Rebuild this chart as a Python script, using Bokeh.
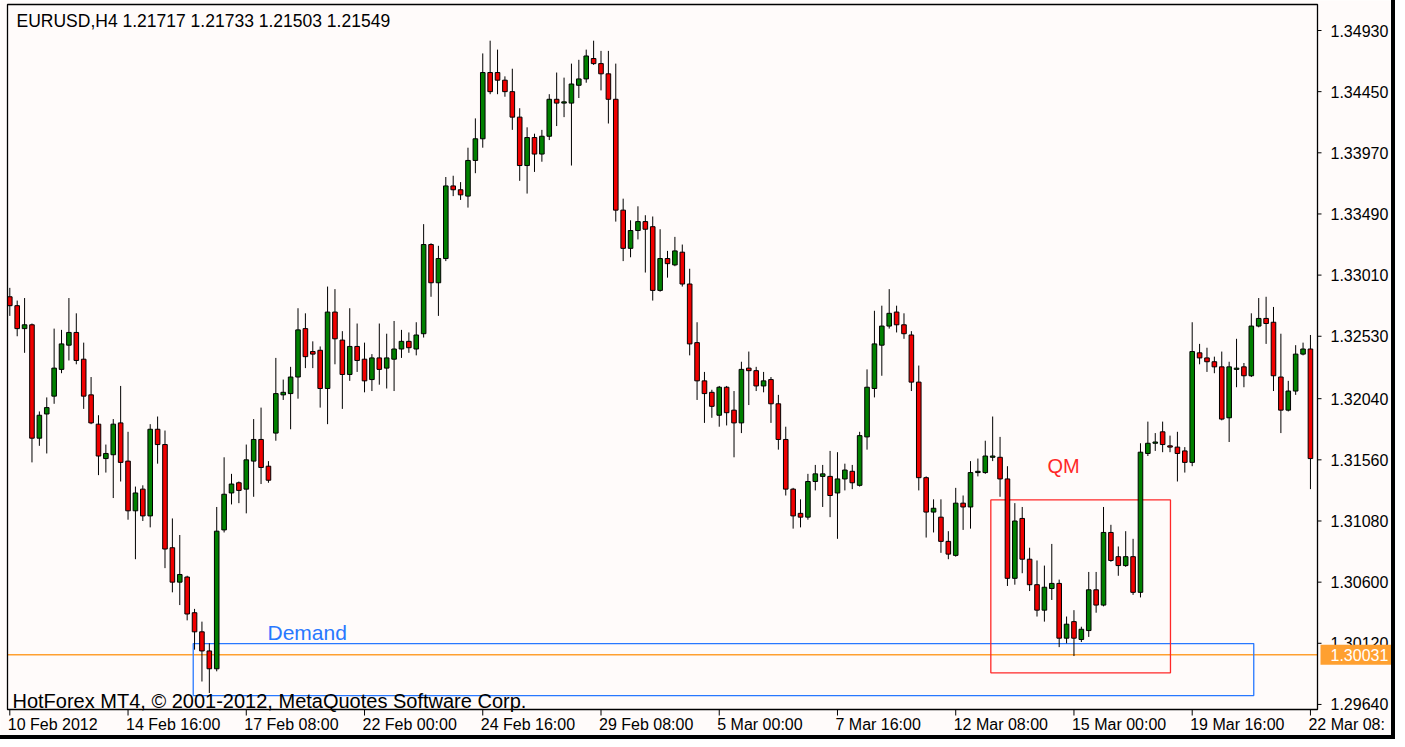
from bokeh.plotting import figure
from bokeh.models import ColumnDataSource, Range1d
from bokeh.core.properties import value
from bokeh.embed import file_html
from bokeh.resources import INLINE

# ---------------- data (EURUSD H4, bars indexed from 10 Feb 2012 00:00) ----------------
opens = [1.3284, 1.3277, 1.3259, 1.3262, 1.3173, 1.3192, 1.3206, 1.3227, 1.3246, 1.3256,
         1.3235, 1.3207, 1.3184, 1.3157, 1.3160, 1.3185, 1.3155, 1.3116, 1.3133, 1.3112,
         1.3180, 1.3168, 1.3087, 1.3060, 1.3064, 1.3036, 1.3021, 1.3006, 1.2992, 1.3101,
         1.3130, 1.3138, 1.3133, 1.3155, 1.3172, 1.3151, 1.3177, 1.3207, 1.3208, 1.3221,
         1.3259, 1.3241, 1.3242, 1.3212, 1.3272, 1.3250, 1.3223, 1.3245, 1.3235, 1.3219,
         1.3236, 1.3228, 1.3235, 1.3243, 1.3249, 1.3243, 1.3255, 1.3325, 1.3295, 1.3314,
         1.3371, 1.3368, 1.3363, 1.3391, 1.3408, 1.3460, 1.3460, 1.3454, 1.3445, 1.3425,
         1.3387, 1.3409, 1.3396, 1.3410, 1.3439, 1.3436, 1.3436, 1.3450, 1.3455, 1.3471,
         1.3467, 1.3459, 1.3439, 1.3352, 1.3322, 1.3336, 1.3343, 1.3339, 1.3289, 1.3314,
         1.3309, 1.3319, 1.3294, 1.3248, 1.3218, 1.3209, 1.3191, 1.3213, 1.3195, 1.3185,
         1.3228, 1.3226, 1.3214, 1.3219, 1.3200, 1.3172, 1.3133, 1.3114, 1.3111, 1.3139,
         1.3143, 1.3143, 1.3130, 1.3141, 1.3147, 1.3136, 1.3174, 1.3212, 1.3246, 1.3261,
         1.3272, 1.3262, 1.3254, 1.3217, 1.3142, 1.3115, 1.3111, 1.3092, 1.3081, 1.3122,
         1.3119, 1.3146, 1.3146, 1.3158, 1.3158, 1.3141, 1.3063, 1.3110, 1.3078, 1.3058,
         1.3038, 1.3055, 1.3059, 1.3016, 1.3029, 1.3015, 1.3022, 1.3054, 1.3042, 1.3099,
         1.3080, 1.3073, 1.3080, 1.3052, 1.3161, 1.3169, 1.3178, 1.3167, 1.3166, 1.3163,
         1.3154, 1.3240, 1.3236, 1.3233, 1.3229, 1.3189, 1.3227, 1.3229, 1.3222, 1.3261,
         1.3267, 1.3264, 1.3221, 1.3195, 1.3210, 1.3239, 1.3243]
highs = [1.3291, 1.3281, 1.3283, 1.3263, 1.3194, 1.3205, 1.3259, 1.3258, 1.3283, 1.3271,
         1.3248, 1.3221, 1.3191, 1.3168, 1.3188, 1.3214, 1.3178, 1.3135, 1.3136, 1.3184,
         1.3190, 1.3179, 1.3110, 1.3097, 1.3065, 1.3039, 1.3029, 1.3012, 1.3119, 1.3158,
         1.3145, 1.3139, 1.3168, 1.3188, 1.3197, 1.3155, 1.3236, 1.3219, 1.3229, 1.3275,
         1.3271, 1.3249, 1.3245, 1.3292, 1.3290, 1.3257, 1.3275, 1.3263, 1.3248, 1.3239,
         1.3263, 1.3255, 1.3265, 1.3258, 1.3256, 1.3264, 1.3341, 1.3326, 1.3324, 1.3378,
         1.3379, 1.3374, 1.3401, 1.3424, 1.3475, 1.3485, 1.3478, 1.3457, 1.3463, 1.3432,
         1.3417, 1.3412, 1.3415, 1.3443, 1.3460, 1.3456, 1.3467, 1.3470, 1.3478, 1.3485,
         1.3477, 1.3477, 1.3467, 1.3361, 1.3344, 1.3355, 1.3348, 1.3347, 1.3337, 1.3320,
         1.3331, 1.3325, 1.3306, 1.3264, 1.3225, 1.3211, 1.3214, 1.3214, 1.3210, 1.3233,
         1.3241, 1.3229, 1.3225, 1.3221, 1.3207, 1.3182, 1.3134, 1.3125, 1.3145, 1.3152,
         1.3152, 1.3163, 1.3162, 1.3153, 1.3152, 1.3178, 1.3227, 1.3273, 1.3277, 1.3290,
         1.3277, 1.3271, 1.3257, 1.3230, 1.3143, 1.3125, 1.3125, 1.3100, 1.3134, 1.3128,
         1.3155, 1.3157, 1.3171, 1.3190, 1.3174, 1.3151, 1.3122, 1.3119, 1.3087, 1.3077,
         1.3073, 1.3090, 1.3062, 1.3033, 1.3038, 1.3025, 1.3068, 1.3068, 1.3119, 1.3105,
         1.3088, 1.3100, 1.3094, 1.3169, 1.3186, 1.3177, 1.3186, 1.3175, 1.3178, 1.3166,
         1.3264, 1.3247, 1.3244, 1.3237, 1.3241, 1.3233, 1.3251, 1.3232, 1.3271, 1.3283,
         1.3284, 1.3276, 1.3255, 1.3218, 1.3246, 1.3248, 1.3254]
lows = [1.3269, 1.3253, 1.3240, 1.3154, 1.3167, 1.3161, 1.3200, 1.3224, 1.3234, 1.3231,
        1.3196, 1.3184, 1.3144, 1.3146, 1.3126, 1.3139, 1.3109, 1.3078, 1.3108, 1.3103,
        1.3153, 1.3071, 1.3052, 1.3042, 1.3030, 1.3007, 1.2982, 1.2973, 1.2990, 1.3099,
        1.3121, 1.3122, 1.3114, 1.3127, 1.3137, 1.3138, 1.3171, 1.3203, 1.3180, 1.3204,
        1.3228, 1.3228, 1.3197, 1.3184, 1.3231, 1.3196, 1.3218, 1.3225, 1.3209, 1.3210,
        1.3215, 1.3212, 1.3210, 1.3236, 1.3240, 1.3238, 1.3252, 1.3284, 1.3269, 1.3312,
        1.3363, 1.3360, 1.3354, 1.3381, 1.3401, 1.3443, 1.3443, 1.3441, 1.3415, 1.3375,
        1.3365, 1.3382, 1.3390, 1.3407, 1.3418, 1.3425, 1.3387, 1.3440, 1.3452, 1.3466,
        1.3446, 1.3420, 1.3343, 1.3312, 1.3315, 1.3329, 1.3303, 1.3281, 1.3288, 1.3299,
        1.3308, 1.3292, 1.3238, 1.3203, 1.3185, 1.3189, 1.3182, 1.3183, 1.3158, 1.3177,
        1.3199, 1.3210, 1.3209, 1.3185, 1.3164, 1.3128, 1.3102, 1.3103, 1.3109, 1.3132,
        1.3119, 1.3111, 1.3094, 1.3132, 1.3133, 1.3135, 1.3164, 1.3205, 1.3222, 1.3259,
        1.3256, 1.3251, 1.3210, 1.3132, 1.3095, 1.3099, 1.3083, 1.3078, 1.3080, 1.3101,
        1.3102, 1.3143, 1.3145, 1.3155, 1.3127, 1.3057, 1.3058, 1.3067, 1.3053, 1.3033,
        1.3029, 1.3046, 1.3009, 1.3012, 1.3002, 1.3013, 1.3017, 1.3036, 1.3041, 1.3076,
        1.3065, 1.3072, 1.3050, 1.3048, 1.3159, 1.3163, 1.3162, 1.3162, 1.3139, 1.3146,
        1.3151, 1.3231, 1.3225, 1.3224, 1.3187, 1.3170, 1.3213, 1.3213, 1.3221, 1.3260,
        1.3247, 1.3210, 1.3177, 1.3194, 1.3207, 1.3238, 1.3133]
closes = [1.3277, 1.3259, 1.3262, 1.3173, 1.3191, 1.3197, 1.3228, 1.3247, 1.3256, 1.3234,
          1.3206, 1.3185, 1.3159, 1.3161, 1.3184, 1.3154, 1.3116, 1.3130, 1.3112, 1.3180,
          1.3168, 1.3086, 1.3060, 1.3066, 1.3035, 1.3021, 1.3006, 1.2992, 1.3100, 1.3129,
          1.3137, 1.3132, 1.3156, 1.3172, 1.3150, 1.3140, 1.3208, 1.3209, 1.3221, 1.3258,
          1.3237, 1.3239, 1.3212, 1.3272, 1.3251, 1.3223, 1.3245, 1.3234, 1.3218, 1.3236,
          1.3227, 1.3236, 1.3243, 1.3249, 1.3244, 1.3254, 1.3325, 1.3295, 1.3314, 1.3371,
          1.3368, 1.3364, 1.3391, 1.3408, 1.3460, 1.3445, 1.3454, 1.3445, 1.3425, 1.3387,
          1.3409, 1.3396, 1.3410, 1.3439, 1.3436, 1.3437, 1.3451, 1.3455, 1.3473, 1.3467,
          1.3459, 1.3439, 1.3352, 1.3322, 1.3336, 1.3343, 1.3337, 1.3289, 1.3314, 1.3310,
          1.3320, 1.3294, 1.3247, 1.3218, 1.3208, 1.3198, 1.3213, 1.3193, 1.3185, 1.3227,
          1.3226, 1.3214, 1.3218, 1.3200, 1.3172, 1.3133, 1.3112, 1.3111, 1.3139, 1.3145,
          1.3145, 1.3128, 1.3141, 1.3148, 1.3138, 1.3175, 1.3213, 1.3247, 1.3261, 1.3271,
          1.3262, 1.3255, 1.3217, 1.3142, 1.3115, 1.3118, 1.3092, 1.3082, 1.3122, 1.3119,
          1.3146, 1.3147, 1.3159, 1.3159, 1.3141, 1.3063, 1.3108, 1.3078, 1.3058, 1.3038,
          1.3056, 1.3059, 1.3016, 1.3027, 1.3016, 1.3023, 1.3054, 1.3042, 1.3099, 1.3077,
          1.3073, 1.3080, 1.3052, 1.3162, 1.3169, 1.3170, 1.3168, 1.3166, 1.3161, 1.3154,
          1.3241, 1.3236, 1.3233, 1.3229, 1.3188, 1.3229, 1.3228, 1.3222, 1.3261, 1.3267,
          1.3263, 1.3222, 1.3195, 1.3210, 1.3239, 1.3243, 1.3157]

time_tick_bars = [0, 16, 32, 48, 64, 80, 96, 112, 128, 144, 160, 176]
time_tick_labels = ["10 Feb 2012", "14 Feb 16:00", "17 Feb 08:00", "22 Feb 00:00",
                    "24 Feb 16:00", "29 Feb 08:00", "5 Mar 00:00", "7 Mar 16:00",
                    "12 Mar 08:00", "15 Mar 00:00", "19 Mar 16:00", "22 Mar 08:"]
price_ticks = [1.29640, 1.30120, 1.30600, 1.31080, 1.31560, 1.32040,
               1.32530, 1.33010, 1.33490, 1.33970, 1.34450, 1.34930]
last_price = 1.30031
header_text = "EURUSD,H4  1.21717 1.21733 1.21503 1.21549"
footer_text = "HotForex MT4, \u00a9 2001-2012, MetaQuotes Software Corp."

# annotation zones (bar index / price)
demand_zone = dict(left=24.82, right=168.33, top=1.30118, bottom=1.29710)
qm_zone = dict(left=132.75, right=157.06, top=1.31245, bottom=1.29888)
demand_label = dict(x=34.87, y=1.30205, text="Demand")
qm_label = dict(x=140.42, y=1.31508, text="QM")

# ---------------- layout / styles ----------------
W, H = 1395, 739                 # canvas size in px (4px window border drawn over right/bottom)
BAR0_PX, BAR_PX = 9.3, 7.39      # x of bar 0, px per bar
REF_PRICE, REF_PX, PX_PER_UNIT = 1.34930, 30.0, 12740.0
FRAME = dict(l=7, r=1317, t=4, b=709)

def bx(px):
    return (px - BAR0_PX) / BAR_PX

def py(ypx):
    return REF_PRICE - (ypx - REF_PX) / PX_PER_UNIT

BG = "#FFFBFA"
BULL = "#008000"
BEAR = "#F00000"
ORANGE = "#FFA030"
BLUE = "#2878FF"
RED = "#FF2828"
FONT = value("Liberation Sans")
SCALE_FS = value("16px")

p = figure(width=W, height=H, output_backend="svg", toolbar_location=None,
           x_range=Range1d(bx(0), bx(W)), y_range=Range1d(py(H), py(0)),
           x_axis_location=None, y_axis_location=None,
           min_border_left=0, min_border_top=0, min_border_right=0, min_border_bottom=0,
           background_fill_color=BG, border_fill_color=BG)
p.grid.visible = False
p.outline_line_color = None

fl, fr, ft, fb = bx(FRAME["l"]), bx(FRAME["r"]), py(FRAME["t"]), py(FRAME["b"])

# current price line (behind candles)
p.segment(x0=[fl], y0=[last_price], x1=[fr], y1=[last_price], line_color=ORANGE, line_width=1.5)

# zones
p.quad(fill_color=None, line_color=BLUE, line_width=1.3, **{k: [v] for k, v in demand_zone.items()})
p.quad(fill_color=None, line_color=RED, line_width=1.3, **{k: [v] for k, v in qm_zone.items()})

# candles
n = len(opens)
src = ColumnDataSource(dict(
    x=list(range(n)), h=highs, l=lows,
    top=[max(a, b) for a, b in zip(opens, closes)],
    bot=[min(a, b) for a, b in zip(opens, closes)],
    col=[BULL if c >= o else BEAR for o, c in zip(opens, closes)],
))
p.segment(x0="x", y0="l", x1="x", y1="h", source=src, line_color="black", line_width=1)
p.vbar(x="x", width=0.62, top="top", bottom="bot", source=src,
       fill_color="col", line_color="black", line_width=1)

# chart frame
p.quad(left=[fl], right=[fr], top=[ft], bottom=[fb], fill_color=None,
       line_color="black", line_width=1.3)

# price scale (right)
tick_len = 4 / BAR_PX
p.segment(x0=[fr] * len(price_ticks), x1=[fr + tick_len] * len(price_ticks),
          y0=price_ticks, y1=price_ticks, line_color="black", line_width=1)
p.text(x=[bx(1330)] * len(price_ticks), y=price_ticks,
       text=[f"{t:.5f}" for t in price_ticks], text_font=FONT,
       text_font_size=SCALE_FS, text_color="black",
       text_align="left", text_baseline="middle")

# time scale (bottom)
p.segment(x0=time_tick_bars, x1=time_tick_bars, y0=[fb] * len(time_tick_bars),
          y1=[py(FRAME["b"] + 6)] * len(time_tick_bars), line_color="black", line_width=1)
p.text(x=time_tick_bars, y=[py(724)] * len(time_tick_bars), text=time_tick_labels,
       x_offset=-2, text_font=FONT, text_font_size=SCALE_FS, text_color="black",
       text_align="left", text_baseline="middle")

# current price tag
half = 10 / PX_PER_UNIT
p.quad(left=[bx(1320)], right=[bx(W)], top=[last_price + half], bottom=[last_price - half],
       fill_color=ORANGE, line_color=None)
p.text(x=[bx(1330)], y=[last_price], text=[f"{last_price:.5f}"], text_font=FONT,
       text_font_size=SCALE_FS, text_color="white",
       text_align="left", text_baseline="middle")

# zone labels
p.text(x=[demand_label["x"]], y=[demand_label["y"]], text=[demand_label["text"]],
       text_font=FONT, text_font_size=value("21px"), text_color=BLUE,
       text_align="left", text_baseline="middle")
p.text(x=[qm_label["x"]], y=[qm_label["y"]], text=[qm_label["text"]],
       text_font=FONT, text_font_size=value("20px"), text_color=RED,
       text_align="left", text_baseline="middle")

# header and footer
p.text(x=[bx(16)], y=[py(20)], text=[header_text], text_font=FONT,
       text_font_size=value("17.5px"), text_color="black",
       text_align="left", text_baseline="middle")
p.text(x=[bx(12)], y=[py(700)], text=[footer_text], text_font=FONT,
       text_font_size=value("20px"), text_color="black",
       text_align="left", text_baseline="middle")

p.styles = {"border-right": "4px solid black", "border-bottom": "4px solid black"}

open("out.html", "w").write(file_html(p, INLINE))
